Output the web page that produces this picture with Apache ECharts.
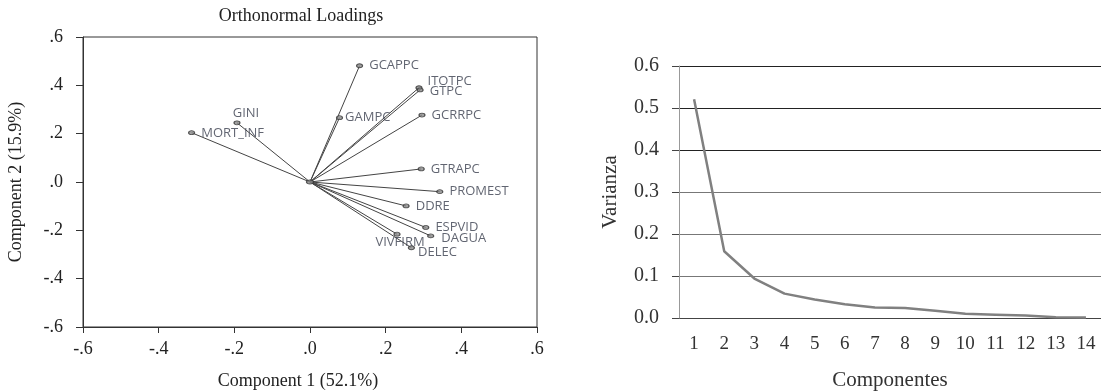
<!DOCTYPE html>
<html>
<head>
<meta charset="utf-8">
<script src="https://cdn.jsdelivr.net/npm/echarts@6/dist/echarts.min.js"></script>
<style>
  html, body { margin: 0; padding: 0; background: #fff; }
  #chart { width: 1107px; height: 391px; }
</style>
</head>
<body>
<div id="chart"></div>
<script>
// 적재값 (Component 1, Component 2)
const varNames = ["GCAPPC", "ITOTPC", "GTPC", "GCRRPC", "GAMPC", "GINI", "MORT_INF",
  "GTRAPC", "PROMEST", "DDRE", "ESPVID", "DAGUA", "VIVFIRM", "DELEC"];
const comp1 = [0.131, 0.288, 0.291, 0.296, 0.078, -0.193, -0.313,
  0.294, 0.343, 0.254, 0.306, 0.319, 0.230, 0.268];
const comp2 = [0.481, 0.390, 0.381, 0.277, 0.266, 0.245, 0.204,
  0.054, -0.040, -0.099, -0.188, -0.223, -0.216, -0.272];

// 스크리 그래프
const components = ["1", "2", "3", "4", "5", "6", "7", "8", "9", "10", "11", "12", "13", "14"];
const varianza = [0.521, 0.159, 0.094, 0.058, 0.044, 0.033, 0.025, 0.024, 0.017, 0.010, 0.008, 0.006, 0.002, 0.001];

const SERIF = '"Liberation Serif", "DejaVu Serif", serif';
const SANS = '"Open Sans", "DejaVu Sans", sans-serif';

// 라벨 위치 보정
const labelPos = {
  ITOTPC: { position: "right", distance: 5, offset: [0, -6] },
  GTPC: { position: "right", distance: 6, offset: [0, 1] },
  GAMPC: { position: "right", distance: 2 },
  GINI: { position: "top", distance: 1, offset: [9, 0] },
  MORT_INF: { position: "right", distance: 6, offset: [0, 1] },
  VIVFIRM: { position: "bottom", distance: -1, offset: [3, 0] },
  DELEC: { position: "right", distance: 3, offset: [0, 5] },
  DAGUA: { position: "right", distance: 7, offset: [0, 2] },
};

const fmtLoad = (v) => {
  const s = Math.abs(v).toFixed(1).replace(/^0/, "");
  return (v < -1e-9 ? "-" : "") + s;
};

const lineData = varNames.map((n, i) => ({ coords: [[0, 0], [comp1[i], comp2[i]]] }));
const pointData = varNames.map((n, i) => ({
  name: n,
  value: [comp1[i], comp2[i]],
  label: Object.assign({ position: "right", distance: 6 }, labelPos[n] || {}),
}));

const chart = echarts.init(document.getElementById("chart"), null, { renderer: "canvas" });
chart.setOption({
  backgroundColor: "#fff",
  animation: false,
  title: {
    text: "Orthonormal Loadings",
    left: 296, top: 2, textAlign: "center",
    textStyle: { fontFamily: SERIF, fontSize: 18, fontWeight: "normal", color: "#222" },
  },
  grid: [
    { left: 83, top: 37, width: 454, height: 290, show: true, borderColor: "#333", borderWidth: 1, outerBoundsMode: "none", containLabel: false },
    { left: 679, right: 6, top: 66, bottom: 73, outerBoundsMode: "none", containLabel: false },
  ],
  xAxis: [
    {
      gridIndex: 0, type: "value", min: -0.6, max: 0.6, interval: 0.2,
      name: "Component 1 (52.1%)", nameLocation: "middle", nameGap: 45,
      nameTextStyle: { fontFamily: SERIF, fontSize: 18, color: "#222", padding: [0, 24, 0, 0] },
      axisLine: { onZero: false, lineStyle: { color: "#333" } },
      axisTick: { length: 6, lineStyle: { color: "#333" } },
      axisLabel: { formatter: fmtLoad, fontFamily: SERIF, fontSize: 18, color: "#222", margin: 13 },
      splitLine: { show: false },
    },
    {
      gridIndex: 1, type: "category", data: components, boundaryGap: true,
      name: "Componentes", nameLocation: "middle", nameGap: 52,
      nameTextStyle: { fontFamily: SERIF, fontSize: 21, color: "#333" },
      axisLine: { show: false },
      axisTick: { show: false },
      axisLabel: { fontFamily: SERIF, fontSize: 19, color: "#333", margin: 17 },
    },
  ],
  yAxis: [
    {
      gridIndex: 0, type: "value", min: -0.6, max: 0.6, interval: 0.2,
      name: "Component 2 (15.9%)", nameLocation: "middle", nameGap: 58,
      nameTextStyle: { fontFamily: SERIF, fontSize: 18, color: "#222" },
      axisLine: { onZero: false, lineStyle: { color: "#333" } },
      axisTick: { length: 7, lineStyle: { color: "#333" } },
      axisLabel: { formatter: fmtLoad, fontFamily: SERIF, fontSize: 18, color: "#222", margin: 20 },
      splitLine: { show: false },
    },
    {
      gridIndex: 1, type: "value", min: 0, max: 0.6, interval: 0.1,
      name: "Varianza", nameLocation: "middle", nameGap: 58,
      nameTextStyle: { fontFamily: SERIF, fontSize: 21, color: "#333" },
      axisLine: { show: true, onZero: false, lineStyle: { color: "#999" } },
      axisTick: { show: true, length: 7, lineStyle: { color: "#444" } },
      axisLabel: { formatter: (v) => v.toFixed(1), fontFamily: SERIF, fontSize: 20, color: "#333", margin: 20 },
      splitLine: { show: true, lineStyle: { color: ["#444", "#777", "#777", "#777", "#222", "#222", "#222"], width: 1 } },
    },
  ],
  series: [
    {
      type: "lines", coordinateSystem: "cartesian2d", xAxisIndex: 0, yAxisIndex: 0,
      data: lineData, symbol: "none",
      lineStyle: { color: "#444", width: 1, opacity: 1 },
      silent: true,
    },
    {
      type: "scatter", xAxisIndex: 0, yAxisIndex: 0,
      data: pointData,
      symbol: "circle", symbolSize: [6, 4],
      itemStyle: { color: "#888", borderColor: "#333", borderWidth: 1 },
      label: {
        show: true, formatter: "{b}",
        fontFamily: SANS, fontSize: 13, color: "#3a3e4e",
      },
      z: 3,
    },
    {
      type: "scatter", xAxisIndex: 0, yAxisIndex: 0,
      data: [[0, 0]], symbol: "circle", symbolSize: [7, 4],
      itemStyle: { color: "#888", borderColor: "#333", borderWidth: 1 },
      z: 3,
    },
    {
      type: "line", xAxisIndex: 1, yAxisIndex: 1,
      data: varianza, symbol: "none",
      lineStyle: { color: "#808080", width: 2.5 },
      z: 3,
    },
  ],
});
</script>
</body>
</html>
